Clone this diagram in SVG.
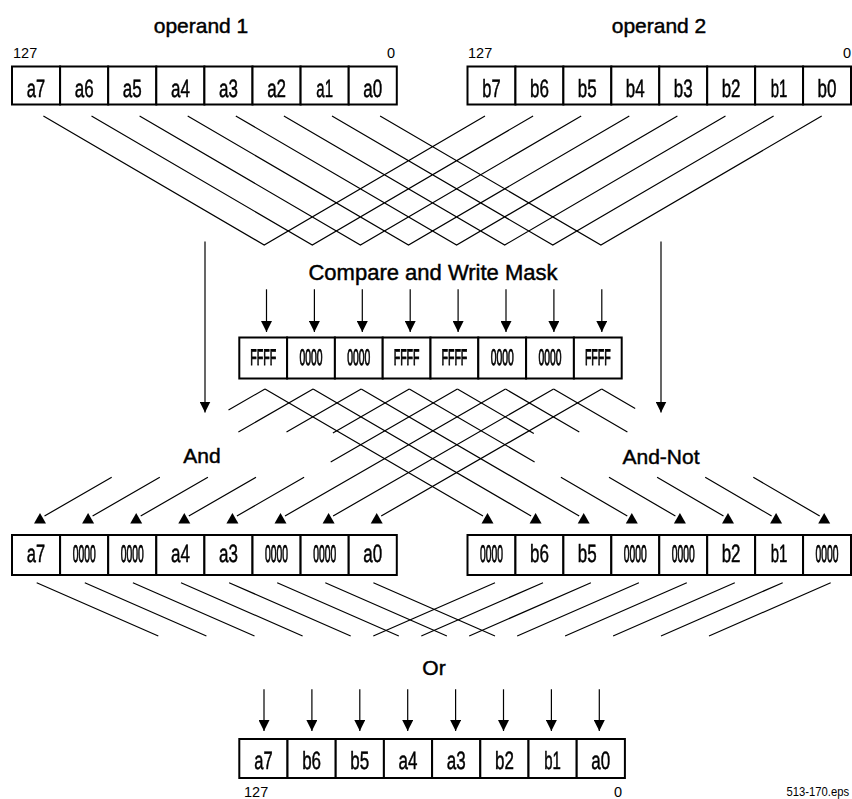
<svg xmlns="http://www.w3.org/2000/svg" xmlns:xlink="http://www.w3.org/1999/xlink" width="852" height="799" viewBox="0 0 852 799">
<style>
.cell{fill:#fff;stroke:#000;stroke-width:2}
.ln{stroke:#000;stroke-width:1.2;fill:none}
.ar{stroke:#000;stroke-width:1.2;fill:none;marker-end:url(#ah)}
.ct{font-family:"Liberation Sans",Arial,sans-serif;font-size:25px;text-anchor:middle;fill:#000;stroke:#000;stroke-width:0.5;text-rendering:geometricPrecision}
.zz{font-size:24px;stroke-width:0.9}
.txt{filter:url(#flat)}
.mk{font-size:22.5px}
.hd{font-family:"Liberation Sans",Arial,sans-serif;font-size:21px;text-anchor:middle;fill:#000;stroke:#000;stroke-width:0.45}
.sm{font-family:"Liberation Sans",Arial,sans-serif;font-size:14.5px;fill:#000}
.tri{fill:#000}
</style>
<defs>
<filter id="flat" x="-5%" y="-5%" width="110%" height="110%"><feOffset dx="0" dy="0"/></filter>
<marker id="ah" viewBox="0 0 10 10" refX="10" refY="5" markerWidth="11" markerHeight="11" markerUnits="userSpaceOnUse" orient="auto">
<path d="M0,0 L10,5 L0,10 z" fill="#000"/>
</marker>
<path id="tri" d="M0,0 L6,10.5 L-6,10.5 z"/>
</defs>
<rect width="852" height="799" fill="#fff"/>

<g id="operand1">
<text class="hd" x="201" y="33">operand 1</text>
<text class="sm" x="13" y="58">127</text>
<text class="sm" x="395" y="58" text-anchor="end">0</text>
<rect class="cell" x="12" y="66.5" width="48.1" height="38"/>
<rect class="cell" x="60.1" y="66.5" width="48.1" height="38"/>
<rect class="cell" x="108.2" y="66.5" width="48.1" height="38"/>
<rect class="cell" x="156.3" y="66.5" width="48.1" height="38"/>
<rect class="cell" x="204.4" y="66.5" width="48.1" height="38"/>
<rect class="cell" x="252.5" y="66.5" width="48.1" height="38"/>
<rect class="cell" x="300.6" y="66.5" width="48.1" height="38"/>
<rect class="cell" x="348.7" y="66.5" width="48.1" height="38"/>
<g class="txt">
<text class="ct" transform="translate(36,97) scale(0.66,1)">a7</text>
<text class="ct" transform="translate(84.2,97) scale(0.68,1)">a6</text>
<text class="ct" transform="translate(132.3,97) scale(0.68,1)">a5</text>
<text class="ct" transform="translate(180.4,97) scale(0.68,1)">a4</text>
<text class="ct" transform="translate(228.5,97) scale(0.68,1)">a3</text>
<text class="ct" transform="translate(276.6,97) scale(0.68,1)">a2</text>
<text class="ct" transform="translate(324.7,97) scale(0.6,1)">a1</text>
<text class="ct" transform="translate(372.8,97) scale(0.68,1)">a0</text>
</g>
</g>

<g id="operand2">
<text class="hd" x="659" y="33">operand 2</text>
<text class="sm" x="468" y="58">127</text>
<text class="sm" x="851" y="58" text-anchor="end">0</text>
<rect class="cell" x="467.5" y="66.5" width="47.94" height="38"/>
<rect class="cell" x="515.44" y="66.5" width="47.94" height="38"/>
<rect class="cell" x="563.38" y="66.5" width="47.94" height="38"/>
<rect class="cell" x="611.32" y="66.5" width="47.94" height="38"/>
<rect class="cell" x="659.26" y="66.5" width="47.94" height="38"/>
<rect class="cell" x="707.2" y="66.5" width="47.94" height="38"/>
<rect class="cell" x="755.14" y="66.5" width="47.94" height="38"/>
<rect class="cell" x="803.08" y="66.5" width="47.92" height="38"/>
<g class="txt">
<text class="ct" transform="translate(491.5,97) scale(0.66,1)">b7</text>
<text class="ct" transform="translate(539.4,97) scale(0.68,1)">b6</text>
<text class="ct" transform="translate(587.3,97) scale(0.68,1)">b5</text>
<text class="ct" transform="translate(635.3,97) scale(0.68,1)">b4</text>
<text class="ct" transform="translate(683.2,97) scale(0.68,1)">b3</text>
<text class="ct" transform="translate(731.1,97) scale(0.68,1)">b2</text>
<text class="ct" transform="translate(779.1,97) scale(0.6,1)">b1</text>
<text class="ct" transform="translate(827,97) scale(0.68,1)">b0</text>
</g>
</g>

<g id="mask">
<text class="hd" x="433" y="280" style="font-size:22px">Compare and Write Mask</text>
<rect class="cell" x="239.3" y="337.5" width="47.8" height="41"/>
<rect class="cell" x="287.1" y="337.5" width="47.8" height="41"/>
<rect class="cell" x="334.9" y="337.5" width="47.8" height="41"/>
<rect class="cell" x="382.7" y="337.5" width="47.8" height="41"/>
<rect class="cell" x="430.5" y="337.5" width="47.8" height="41"/>
<rect class="cell" x="478.3" y="337.5" width="47.8" height="41"/>
<rect class="cell" x="526.1" y="337.5" width="47.8" height="41"/>
<rect class="cell" x="573.9" y="337.5" width="47.8" height="41"/>
<g class="txt">
<text class="ct zz mk" transform="translate(263.2,364.5) scale(0.47,1)">FFFF</text>
<text class="ct zz mk" transform="translate(311,364.5) scale(0.46,1)">0000</text>
<text class="ct zz mk" transform="translate(358.8,364.5) scale(0.46,1)">0000</text>
<text class="ct zz mk" transform="translate(406.6,364.5) scale(0.47,1)">FFFF</text>
<text class="ct zz mk" transform="translate(454.4,364.5) scale(0.47,1)">FFFF</text>
<text class="ct zz mk" transform="translate(502.2,364.5) scale(0.46,1)">0000</text>
<text class="ct zz mk" transform="translate(550,364.5) scale(0.46,1)">0000</text>
<text class="ct zz mk" transform="translate(597.8,364.5) scale(0.47,1)">FFFF</text>
</g>
</g>

<g id="and">
<text class="hd" x="202" y="463">And</text>
<rect class="cell" x="12" y="535" width="48.1" height="40"/>
<rect class="cell" x="60.1" y="535" width="48.1" height="40"/>
<rect class="cell" x="108.2" y="535" width="48.1" height="40"/>
<rect class="cell" x="156.3" y="535" width="48.1" height="40"/>
<rect class="cell" x="204.4" y="535" width="48.1" height="40"/>
<rect class="cell" x="252.5" y="535" width="48.1" height="40"/>
<rect class="cell" x="300.6" y="535" width="48.1" height="40"/>
<rect class="cell" x="348.7" y="535" width="48.1" height="40"/>
<g class="txt">
<text class="ct" transform="translate(36,561.5) scale(0.66,1)">a7</text>
<text class="ct zz" transform="translate(84.2,561.5) scale(0.43,1)">0000</text>
<text class="ct zz" transform="translate(132.3,561.5) scale(0.43,1)">0000</text>
<text class="ct" transform="translate(180.4,561.5) scale(0.68,1)">a4</text>
<text class="ct" transform="translate(228.5,561.5) scale(0.68,1)">a3</text>
<text class="ct zz" transform="translate(276.6,561.5) scale(0.43,1)">0000</text>
<text class="ct zz" transform="translate(324.7,561.5) scale(0.43,1)">0000</text>
<text class="ct" transform="translate(372.8,561.5) scale(0.68,1)">a0</text>
</g>
</g>

<g id="andnot">
<text class="hd" x="661" y="464">And-Not</text>
<rect class="cell" x="467.5" y="535" width="47.94" height="40"/>
<rect class="cell" x="515.44" y="535" width="47.94" height="40"/>
<rect class="cell" x="563.38" y="535" width="47.94" height="40"/>
<rect class="cell" x="611.32" y="535" width="47.94" height="40"/>
<rect class="cell" x="659.26" y="535" width="47.94" height="40"/>
<rect class="cell" x="707.2" y="535" width="47.94" height="40"/>
<rect class="cell" x="755.14" y="535" width="47.94" height="40"/>
<rect class="cell" x="803.08" y="535" width="47.92" height="40"/>
<g class="txt">
<text class="ct zz" transform="translate(491.5,561.5) scale(0.43,1)">0000</text>
<text class="ct" transform="translate(539.4,561.5) scale(0.68,1)">b6</text>
<text class="ct" transform="translate(587.3,561.5) scale(0.68,1)">b5</text>
<text class="ct zz" transform="translate(635.3,561.5) scale(0.43,1)">0000</text>
<text class="ct zz" transform="translate(683.2,561.5) scale(0.43,1)">0000</text>
<text class="ct" transform="translate(731.1,561.5) scale(0.68,1)">b2</text>
<text class="ct" transform="translate(779.1,561.5) scale(0.6,1)">b1</text>
<text class="ct zz" transform="translate(827,561.5) scale(0.43,1)">0000</text>
</g>
</g>

<g id="or">
<text class="hd" x="434" y="675">Or</text>
<rect class="cell" x="239.3" y="739" width="48.2" height="39"/>
<rect class="cell" x="287.5" y="739" width="48.2" height="39"/>
<rect class="cell" x="335.7" y="739" width="48.2" height="39"/>
<rect class="cell" x="383.9" y="739" width="48.2" height="39"/>
<rect class="cell" x="432.1" y="739" width="48.2" height="39"/>
<rect class="cell" x="480.3" y="739" width="48.2" height="39"/>
<rect class="cell" x="528.5" y="739" width="48.2" height="39"/>
<rect class="cell" x="576.7" y="739" width="48.2" height="39"/>
<g class="txt">
<text class="ct" transform="translate(263.4,769) scale(0.66,1)">a7</text>
<text class="ct" transform="translate(311.6,769) scale(0.68,1)">b6</text>
<text class="ct" transform="translate(359.8,769) scale(0.68,1)">b5</text>
<text class="ct" transform="translate(408,769) scale(0.68,1)">a4</text>
<text class="ct" transform="translate(456.2,769) scale(0.68,1)">a3</text>
<text class="ct" transform="translate(504.4,769) scale(0.68,1)">b2</text>
<text class="ct" transform="translate(552.6,769) scale(0.6,1)">b1</text>
<text class="ct" transform="translate(600.8,769) scale(0.68,1)">a0</text>
</g>
<text class="sm" x="244" y="797">127</text>
<text class="sm" x="622" y="797" text-anchor="end">0</text>
</g>

<g id="caption">
<text class="sm" transform="translate(849,796) scale(0.9,1)" text-anchor="end" style="font-size:12.5px">513-170.eps</text>
</g>

<g id="connectors">
<path class="ln" d="M43.4,116 L264.2,245 L485,116 M91.5,116 L312.3,245 L533.1,116 M139.6,116 L360.4,245 L581.2,116 M187.7,116 L408.5,245 L629.3,116 M235.8,116 L456.6,245 L677.4,116 M283.9,116 L504.7,245 L725.5,116 M332,116 L552.8,245 L773.6,116 M380.1,116 L600.9,245 L821.7,116"/>
<line class="ar" x1="205" y1="241.5" x2="205" y2="412.5"/>
<line class="ar" x1="661" y1="241.5" x2="661" y2="412.5"/>
<line class="ar" x1="266.5" y1="289.3" x2="266.5" y2="332"/>
<line class="ar" x1="314.4" y1="289.3" x2="314.4" y2="332"/>
<line class="ar" x1="362.3" y1="289.3" x2="362.3" y2="332"/>
<line class="ar" x1="410.2" y1="289.3" x2="410.2" y2="332"/>
<line class="ar" x1="458.1" y1="289.3" x2="458.1" y2="332"/>
<line class="ar" x1="506" y1="289.3" x2="506" y2="332"/>
<line class="ar" x1="553.9" y1="289.3" x2="553.9" y2="332"/>
<line class="ar" x1="601.8" y1="289.3" x2="601.8" y2="332"/>
<path class="ln" d="M265,389 L228.5,410 M111.7,477.3 L44.5,516
M313.1,389 L238.4,432 M159.8,477.3 L92.6,516
M361.2,389 L286.5,432 M207.9,477.3 L140.7,516
M409.3,389 L332.9,433 M256,477.3 L188.8,516
M457.4,389 L330.7,462 M304.1,477.3 L236.9,516
M505.5,389 L285,516
M553.6,389 L333.1,516
M601.7,389 L381.2,516"/>
<path class="ln" d="M265,389 L483,516
M313.1,389 L531.1,516
M361.2,389 L579.2,516
M409.3,389 L534.6,462 M560.9,477.3 L627.3,516
M457.4,389 L533.8,433.5 M609,477.3 L675.4,516
M505.5,389 L579.3,432 M657.1,477.3 L723.5,516
M553.6,389 L627.4,432 M705.2,477.3 L771.6,516
M601.7,389 L635.2,408.5 M753.3,477.3 L819.7,516"/>
<g class="tri">
<use xlink:href="#tri" x="40" y="513"/>
<use xlink:href="#tri" x="88.1" y="513"/>
<use xlink:href="#tri" x="136.2" y="513"/>
<use xlink:href="#tri" x="184.3" y="513"/>
<use xlink:href="#tri" x="232.4" y="513"/>
<use xlink:href="#tri" x="280.5" y="513"/>
<use xlink:href="#tri" x="328.6" y="513"/>
<use xlink:href="#tri" x="376.7" y="513"/>
<use xlink:href="#tri" x="487.5" y="513"/>
<use xlink:href="#tri" x="535.6" y="513"/>
<use xlink:href="#tri" x="583.7" y="513"/>
<use xlink:href="#tri" x="631.8" y="513"/>
<use xlink:href="#tri" x="679.9" y="513"/>
<use xlink:href="#tri" x="728" y="513"/>
<use xlink:href="#tri" x="776.1" y="513"/>
<use xlink:href="#tri" x="824.2" y="513"/>
</g>
<path class="ln" d="M36.7,582.7 L158.3,636 M84.8,582.7 L206.4,636 M132.9,582.7 L254.5,636 M181,582.7 L302.6,636 M229.1,582.7 L350.7,636 M277.2,582.7 L398.8,636 M325.3,582.7 L446.9,636 M373.4,582.7 L495,636"/>
<path class="ln" d="M495,582.7 L373.3,636 M543,582.7 L421.3,636 M590.9,582.7 L469.2,636 M638.9,582.7 L517.2,636 M686.8,582.7 L565.1,636 M734.8,582.7 L613.1,636 M782.7,582.7 L661,636 M830.7,582.7 L709,636"/>
<line class="ar" x1="264" y1="689.3" x2="264" y2="731"/>
<line class="ar" x1="311.9" y1="689.3" x2="311.9" y2="731"/>
<line class="ar" x1="359.8" y1="689.3" x2="359.8" y2="731"/>
<line class="ar" x1="407.7" y1="689.3" x2="407.7" y2="731"/>
<line class="ar" x1="455.6" y1="689.3" x2="455.6" y2="731"/>
<line class="ar" x1="503.5" y1="689.3" x2="503.5" y2="731"/>
<line class="ar" x1="551.4" y1="689.3" x2="551.4" y2="731"/>
<line class="ar" x1="599.3" y1="689.3" x2="599.3" y2="731"/>
</g>
</svg>
